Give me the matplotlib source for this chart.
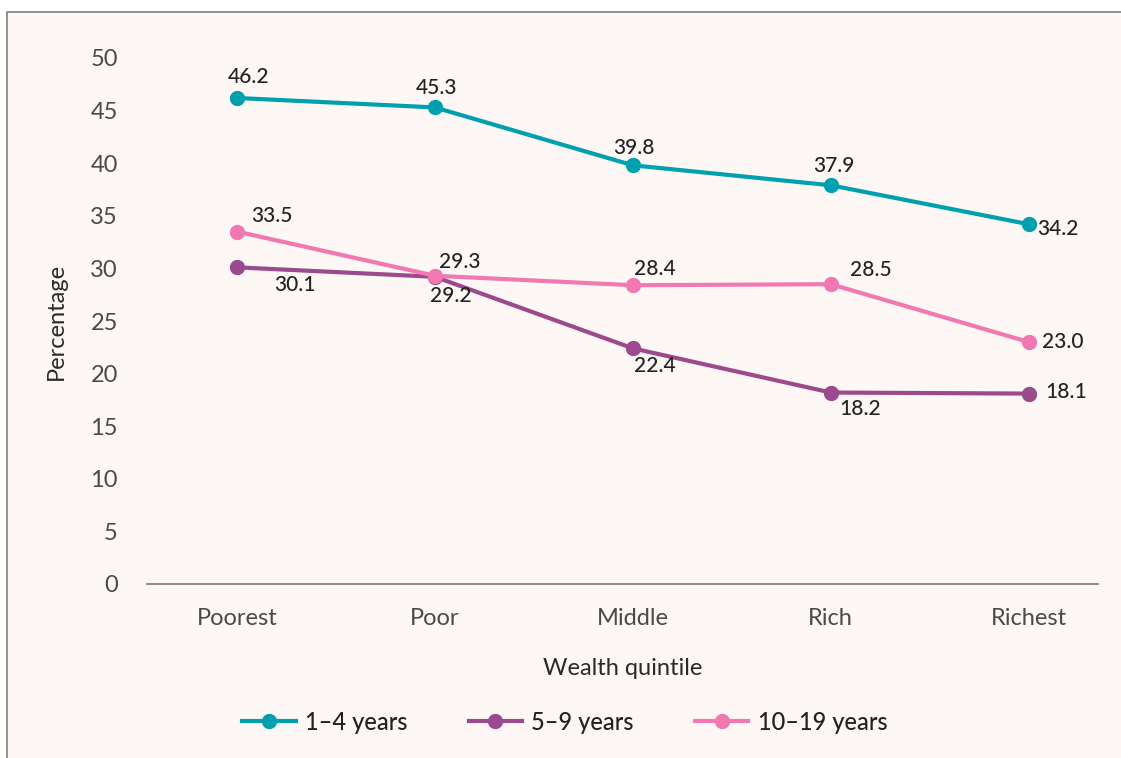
import matplotlib.pyplot as plt
from matplotlib.patches import Rectangle
from matplotlib.lines import Line2D

plt.rcParams['font.family'] = ['Lato', 'DejaVu Sans']

quintiles = ['Poorest', 'Poor', 'Middle', 'Rich', 'Richest']
age_1_4 = [46.2, 45.3, 39.8, 37.9, 34.2]
age_5_9 = [30.1, 29.2, 22.4, 18.2, 18.1]
age_10_19 = [33.5, 29.3, 28.4, 28.5, 23.0]

teal = '#00A0AF'
purple = '#9B4A8D'
pink = '#F178B0'

W, H = 1121, 758
fig = plt.figure(figsize=(W / 100, H / 100), dpi=100, facecolor='white')

# panel background + border (left/top only visible)
x0, y0 = 7 / W, 1 - 12 / H
fig.add_artist(Rectangle((x0, 0), 1.1, y0, transform=fig.transFigure,
                         facecolor='#FDF8F6', edgecolor='none', zorder=-10))
fig.add_artist(Line2D([x0, x0, 1.0], [0, y0, y0], transform=fig.transFigure,
                      color='#8a8a8a', lw=1.3))

ax = fig.add_axes([147 / W, 1 - 584 / H, (1098 - 147) / W, (584 - 58) / H])
ax.set_facecolor('none')

x = list(range(len(quintiles)))
ax.plot(x, age_1_4, color=teal, lw=3, marker='o', ms=10, label='1–4 years', clip_on=False)
ax.plot(x, age_5_9, color=purple, lw=3, marker='o', ms=10, label='5–9 years', clip_on=False)
ax.plot(x, age_10_19, color=pink, lw=3, marker='o', ms=10, label='10–19 years', clip_on=False)

ax.set_xlim(-0.455, 4.35)
ax.set_ylim(0, 50)
ax.set_yticks(range(0, 51, 5))
ax.set_xticks(x)
ax.set_xticklabels(quintiles)

for s in ['top', 'right', 'left']:
    ax.spines[s].set_visible(False)
ax.spines['bottom'].set_color('#777777')
ax.spines['bottom'].set_linewidth(1.2)
ax.tick_params(axis='both', length=0, labelsize=17, colors='#4a4a4a')
ax.tick_params(axis='y', pad=21)
ax.tick_params(axis='x', pad=17)

ax.set_xlabel('Wealth quintile', fontsize=17, color='#2a2a2a', labelpad=21)
ax.set_ylabel('Percentage', fontsize=17, color='#2a2a2a', labelpad=17)

# data labels: offsets (points) of label centre from the marker
lbl = dict(fontsize=15, color='#222222', fontweight='medium',
           textcoords='offset points', ha='center', va='center')
off_1_4 = [(8, 15), (1, 14), (1, 12.5), (2, 14), (21, -3.5)]
off_5_9 = [(42, -13), (11.5, -13.5), (16, -13), (21, -11.5), (27, 1.5)]
off_10_19 = [(25, 11.5), (18, 10), (16, 12), (29, 10), (24.5, 0)]

for vals, offs in [(age_1_4, off_1_4), (age_5_9, off_5_9), (age_10_19, off_10_19)]:
    for xi, v, o in zip(x, vals, offs):
        ax.annotate(f'{v:.1f}', (xi, v), xytext=o, **lbl)

leg = fig.legend(loc='center', bbox_to_anchor=(565 / W, 1 - 722 / H), ncol=3,
                 frameon=False, fontsize=17, handlelength=2.25, columnspacing=2.6,
                 handletextpad=0.4)
for t in leg.get_texts():
    t.set_fontweight('medium')
    t.set_color('#222222')

fig.savefig('out.png', dpi=100, facecolor=fig.get_facecolor())
